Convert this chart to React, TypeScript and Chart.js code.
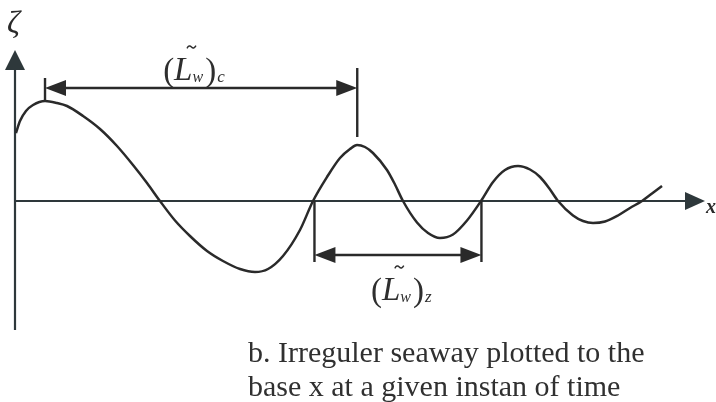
import { useEffect, useRef } from "react";
import { Chart, registerables } from "chart.js";

Chart.register(...registerables);

// Surface elevation ζ of an irregular seaway along the base x, at one instant
const waveX = [
  0.14, 0.72, 1.59, 2.61, 4.35, 6.09, 7.54, 9.86, 12.32, 14.78, 17.1, 19.13, 21.01,
  23.19, 25.36, 27.83, 30.14, 32.61, 34.78, 36.67, 38.84, 41.3, 43.19,
  45.22, 47.1, 48.55, 49.57, 50.72, 51.88, 53.91, 55.07, 56.23,
  58.26, 59.86, 61.59, 63.48, 65.51, 67.54,
  69.28, 71.01, 72.9, 74.64, 76.09, 77.39, 78.7,
  80.87, 82.32, 83.77, 85.51, 87.39, 89.13, 90.87, 92.32, 93.77,
];
const waveZeta = [
  6.8, 8.0, 9.0, 9.6, 10.0, 9.8, 9.5, 8.5, 7.2, 5.5, 3.6, 1.8, 0,
  -1.95, -3.5, -5.0, -6.0, -6.8, -7.1, -6.8, -5.5, -2.9, 0,
  2.4, 4.3, 5.2, 5.6, 5.4, 4.8, 3.1, 1.65, 0,
  -2.15, -3.2, -3.7, -3.35, -1.95, 0,
  1.9, 3.1, 3.5, 3.15, 2.4, 1.3, 0,
  -1.45, -2.0, -2.2, -2.05, -1.45, -0.7, 0, 0.75, 1.5,
];

// Axis extents (base x and elevation ζ)
const X_MIN = 0;
const X_MAX = 100;
const Z_MIN = -12.9;
const Z_MAX = 15.1;

// Crest-to-crest length (L̃w)c
const crestX = [4.35, 49.6];
const crestDimZeta = 11.3;
const crestExtLow = [10.0, 6.4];
const crestExtHigh = [12.3, 13.3];

// Zero-upcrossing length (L̃w)z
const upcrossX = [43.4, 67.6];
const upcrossDimZeta = -5.4;
const upcrossExtLow = -6.1;

const axisNames = ["x", "ζ"];
const lengthSubs = ["c", "z"];
const captionLines = [
  "b. Irreguler seaway plotted to the",
  "base x at a given instan of time",
];

const INK = "#2a2a2a";
const AXIS_INK = "#2e383b";
const SERIF = '"Liberation Serif", "Times New Roman", serif';

function seg(ctx: CanvasRenderingContext2D, x1: number, y1: number, x2: number, y2: number) {
  ctx.beginPath();
  ctx.moveTo(x1, y1);
  ctx.lineTo(x2, y2);
  ctx.stroke();
}

function head(
  ctx: CanvasRenderingContext2D,
  tx: number,
  ty: number,
  dx: number,
  dy: number,
  len: number,
  half: number
) {
  const bx = tx - dx * len;
  const by = ty - dy * len;
  ctx.beginPath();
  ctx.moveTo(tx, ty);
  ctx.lineTo(bx - dy * half, by + dx * half);
  ctx.lineTo(bx + dy * half, by - dx * half);
  ctx.closePath();
  ctx.fill();
}

// (L̃w)sub written with a tilde over the L–w join
function lengthLabel(ctx: CanvasRenderingContext2D, left: number, base: number, sub: string) {
  let cx = left;
  ctx.textAlign = "left";
  ctx.textBaseline = "alphabetic";
  ctx.font = `33px ${SERIF}`;
  ctx.fillText("(", cx, base + 1);
  cx += ctx.measureText("(").width;
  ctx.font = `italic 33px ${SERIF}`;
  ctx.fillText("L", cx, base);
  cx += ctx.measureText("L").width;
  const tildeX = cx - 1;
  ctx.font = `italic 16px ${SERIF}`;
  ctx.fillText("w", cx, base + 2);
  cx += ctx.measureText("w").width + 2;
  ctx.font = `33px ${SERIF}`;
  ctx.fillText(")", cx, base + 1);
  cx += ctx.measureText(")").width + 1;
  ctx.font = `italic 17px ${SERIF}`;
  ctx.fillText(sub, cx, base + 2);

  const ty = base - 33;
  ctx.save();
  ctx.lineWidth = 1.4;
  ctx.beginPath();
  ctx.moveTo(tildeX - 4.5, ty + 1.3);
  ctx.quadraticCurveTo(tildeX - 2.3, ty - 2.6, tildeX, ty);
  ctx.quadraticCurveTo(tildeX + 2.3, ty + 2.6, tildeX + 4.5, ty - 1.3);
  ctx.stroke();
  ctx.restore();
}

const diagramPlugin = {
  id: "waveDiagram",
  beforeDatasetsDraw(chart: any) {
    const { ctx } = chart;
    const xs = chart.scales.x;
    const ys = chart.scales.y;
    const x0 = xs.getPixelForValue(0);
    const y0 = ys.getPixelForValue(0);
    const xEnd = xs.getPixelForValue(X_MAX);
    const yTop = ys.getPixelForValue(Z_MAX);
    const yBot = ys.getPixelForValue(Z_MIN);

    ctx.save();
    ctx.strokeStyle = AXIS_INK;
    ctx.fillStyle = AXIS_INK;
    ctx.lineWidth = 2.2;
    seg(ctx, x0, y0, xEnd - 16, y0);
    head(ctx, xEnd, y0, 1, 0, 20, 9);
    seg(ctx, x0, yBot, x0, yTop + 16);
    head(ctx, x0, yTop, 0, -1, 20, 10);

    ctx.fillStyle = INK;
    ctx.textAlign = "left";
    ctx.textBaseline = "alphabetic";
    ctx.font = `bold italic 20px ${SERIF}`;
    ctx.fillText(axisNames[0], xEnd + 1, y0 + 12);
    ctx.font = `italic 32px ${SERIF}`;
    ctx.fillText(axisNames[1], x0 - 8, yTop - 17);
    ctx.restore();
  },
  afterDatasetsDraw(chart: any) {
    const { ctx } = chart;
    const xs = chart.scales.x;
    const ys = chart.scales.y;
    const px = (v: number) => xs.getPixelForValue(v);
    const py = (v: number) => ys.getPixelForValue(v);

    ctx.save();
    ctx.strokeStyle = INK;
    ctx.fillStyle = INK;
    ctx.lineWidth = 2.4;

    // crest-to-crest dimension
    const cA = px(crestX[0]);
    const cB = px(crestX[1]);
    const cY = py(crestDimZeta);
    seg(ctx, cA, py(crestExtLow[0]), cA, py(crestExtHigh[0]));
    seg(ctx, cB, py(crestExtLow[1]), cB, py(crestExtHigh[1]));
    seg(ctx, cA + 10, cY, cB - 10, cY);
    head(ctx, cA, cY, -1, 0, 21, 8);
    head(ctx, cB, cY, 1, 0, 21, 8);

    // zero-upcrossing dimension
    const zA = px(upcrossX[0]);
    const zB = px(upcrossX[1]);
    const zY = py(upcrossDimZeta);
    const z0 = py(0);
    seg(ctx, zA, z0, zA, py(upcrossExtLow));
    seg(ctx, zB, z0, zB, py(upcrossExtLow));
    seg(ctx, zA + 10, zY, zB - 10, zY);
    head(ctx, zA, zY, -1, 0, 21, 8);
    head(ctx, zB, zY, 1, 0, 21, 8);

    ctx.fillStyle = "#2e2e2e";
    ctx.strokeStyle = "#2e2e2e";
    lengthLabel(ctx, (cA + cB) / 2 - 38, cY - 8, lengthSubs[0]);
    lengthLabel(ctx, (zA + zB) / 2 - 27, zY + 45, lengthSubs[1]);

    ctx.fillStyle = "#303030";
    ctx.font = `30px ${SERIF}`;
    ctx.textAlign = "left";
    ctx.fillText(captionLines[0], 248, 362);
    ctx.fillText(captionLines[1], 248, 396);
    ctx.restore();
  },
};

export default function App() {
  const canvasRef = useRef<HTMLCanvasElement | null>(null);

  useEffect(() => {
    if (!canvasRef.current) return;
    const chart = new Chart(canvasRef.current, {
      type: "line",
      data: {
        datasets: [
          {
            label: "ζ",
            data: waveX.map((v, i) => ({ x: v, y: waveZeta[i] })),
            borderColor: INK,
            borderWidth: 2.5,
            pointRadius: 0,
            fill: false,
            cubicInterpolationMode: "monotone",
          },
        ],
      },
      options: {
        animation: false,
        responsive: true,
        maintainAspectRatio: false,
        layout: { padding: { left: 15, right: 11, top: 50, bottom: 72 } },
        plugins: {
          legend: { display: false },
          tooltip: { enabled: false },
        },
        scales: {
          x: { type: "linear", min: X_MIN, max: X_MAX, display: false },
          y: { type: "linear", min: Z_MIN, max: Z_MAX, display: false },
        },
      },
      plugins: [diagramPlugin],
    });
    return () => chart.destroy();
  }, []);

  return (
    <div
      style={{
        position: "fixed",
        left: 0,
        top: 0,
        width: 716,
        height: 402,
        background: "#ffffff",
      }}
    >
      <canvas ref={canvasRef} />
    </div>
  );
}
